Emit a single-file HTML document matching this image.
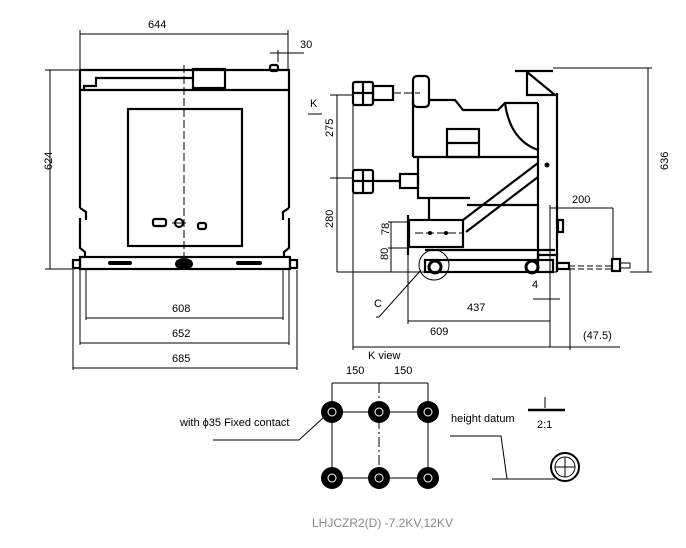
<!DOCTYPE html>
<html><head><meta charset="utf-8"><style>
html,body{margin:0;padding:0;background:#fff}
svg{display:block}
text{font-family:"Liberation Sans Narrow","Liberation Sans",sans-serif;font-size:11px;fill:#000}
</style></head><body>
<svg width="686" height="548" viewBox="0 0 686 548" xmlns="http://www.w3.org/2000/svg">
<g fill="none" stroke="#000" stroke-width="1">
<!-- LEFT VIEW dimensions -->
<line x1="80" y1="34" x2="288" y2="34"/>
<line x1="80" y1="30" x2="80" y2="70"/>
<line x1="288" y1="30" x2="288" y2="70"/>
<line x1="270" y1="53" x2="304" y2="53"/>
<line x1="278" y1="50" x2="278" y2="62"/>
<line x1="50" y1="70" x2="50" y2="269"/>
<line x1="45" y1="70" x2="80" y2="70"/>
<line x1="45" y1="269" x2="75" y2="269"/>
<line x1="86" y1="270" x2="86" y2="320"/>
<line x1="283" y1="270" x2="283" y2="320"/>
<line x1="80" y1="270" x2="80" y2="345"/>
<line x1="289" y1="270" x2="289" y2="345"/>
<line x1="73" y1="270" x2="73" y2="370"/>
<line x1="297" y1="270" x2="297" y2="370"/>
<line x1="86" y1="318" x2="283" y2="318"/>
<line x1="80" y1="343" x2="289" y2="343"/>
<line x1="73" y1="368" x2="297" y2="368"/>
<!-- LEFT body -->
<g stroke-width="2.2">
<path d="M80,70 H289 V208 M80,70 V208"/>
<line x1="80" y1="90" x2="289" y2="90"/>
<path d="M84,90 V86 H96 V78 H193"/>
<rect x="193" y="69" width="32" height="19"/>
<rect x="270" y="65" width="8" height="6" rx="2"/>
<rect x="128" y="109" width="114" height="137"/>
<path d="M80,208 L86,212 V220 M80,218 V248 L85,252 V257"/>
<path d="M289,208 L283,212 V220 M289,218 V248 L284,252 V257"/>
<rect x="80" y="257" width="210" height="12"/>
<rect x="73" y="260" width="7" height="8"/>
<rect x="290" y="260" width="7" height="8"/>
<rect x="153" y="219" width="13" height="7" rx="2"/>
<rect x="198" y="223" width="8" height="6" rx="2"/>
</g>
<line x1="184" y1="65" x2="184" y2="260" stroke-dasharray="8,3"/>
<line x1="86" y1="269" x2="86" y2="273"/><line x1="283" y1="269" x2="283" y2="273"/>
<circle cx="179" cy="223" r="4" stroke-width="2"/>
<line x1="172" y1="223" x2="186" y2="223"/>
<!-- RIGHT VIEW -->
<g stroke-width="2.2">
<rect x="353" y="82" width="20" height="23" rx="2"/>
<line x1="353" y1="93" x2="373" y2="93"/><line x1="363" y1="82" x2="363" y2="105"/>
<rect x="373" y="86" width="20" height="14"/>
<rect x="413" y="76" width="16" height="31" rx="4"/>
<path d="M413,100 V157 M429,100 H455 L463,110 H498 L505,103 H538"/>
<path d="M505,103 Q510,140 538,150"/>
<rect x="447" y="129" width="32" height="28"/>
<line x1="447" y1="143" x2="479" y2="143"/>
<line x1="413" y1="157" x2="538" y2="157"/>
<path d="M418,157 V198 H470"/>
<rect x="353" y="170" width="20" height="23" rx="2"/>
<line x1="353" y1="181" x2="373" y2="181"/><line x1="363" y1="170" x2="363" y2="193"/>
<rect x="400" y="174" width="18" height="14"/>
<line x1="373" y1="181" x2="400" y2="181"/>
<path d="M538,103 V272 M557,93 V272"/>
<path d="M515,71 H553 M527,72 V95 H555 L527,72"/>
<line x1="538" y1="163" x2="463" y2="220"/>
<line x1="538" y1="177" x2="466" y2="232"/>
<line x1="429" y1="198" x2="429" y2="220"/>
<line x1="467" y1="205" x2="538" y2="205"/>
<rect x="409" y="220" width="54" height="27"/>
<line x1="408" y1="215" x2="408" y2="255"/>
<line x1="425" y1="250" x2="555" y2="250"/>
<rect x="425" y="260" width="128" height="12"/>
<line x1="538" y1="250" x2="538" y2="260"/>
<line x1="538" y1="255" x2="557" y2="255"/>
<rect x="558" y="220" width="5" height="12"/>
<rect x="557" y="263" width="12" height="6"/>
<rect x="612" y="259" width="8" height="12"/>
</g>
<circle cx="435" cy="267" r="6" stroke-width="3"/>
<circle cx="532" cy="267" r="6" stroke-width="3"/>
<circle cx="434" cy="265" r="15"/>
<line x1="569" y1="266" x2="612" y2="266" stroke-dasharray="6,3"/>
<line x1="569" y1="269" x2="612" y2="269" stroke-dasharray="6,3"/>
<rect x="620" y="263" width="10" height="5"/>
<line x1="415" y1="233" x2="463" y2="233" stroke-dasharray="8,3"/>
<line x1="393" y1="93" x2="420" y2="93" stroke-dasharray="8,3"/>
<!-- right dims -->
<line x1="337" y1="95" x2="337" y2="272"/>
<line x1="330" y1="95" x2="353" y2="95"/>
<line x1="330" y1="178" x2="353" y2="178"/>
<line x1="337" y1="272" x2="557" y2="272"/>
<line x1="391" y1="222" x2="391" y2="272"/>
<line x1="388" y1="222" x2="409" y2="222"/>
<line x1="388" y1="248" x2="409" y2="248"/>
<line x1="553" y1="68" x2="652" y2="68"/>
<line x1="648" y1="68" x2="648" y2="272"/>
<line x1="630" y1="272" x2="652" y2="272"/>
<line x1="550" y1="208" x2="613" y2="208"/>
<line x1="613" y1="208" x2="613" y2="260"/>
<line x1="550" y1="205" x2="550" y2="347"/>
<line x1="570" y1="268" x2="570" y2="350"/>
<line x1="533" y1="299" x2="560" y2="299"/>
<line x1="408" y1="255" x2="408" y2="324"/>
<line x1="353" y1="105" x2="353" y2="350"/>
<line x1="408" y1="321" x2="550" y2="321"/>
<line x1="353" y1="347" x2="620" y2="347"/>
<path d="M376,317 H379 L421,270"/>
<line x1="308" y1="114" x2="322" y2="114"/>
<!-- K VIEW -->
<line x1="332" y1="383" x2="428" y2="383"/>
<line x1="332" y1="383" x2="332" y2="478"/>
<line x1="379" y1="383" x2="379" y2="478" stroke-dasharray="10,3,2,3"/>
<line x1="428" y1="383" x2="428" y2="478"/>
<line x1="332" y1="412" x2="428" y2="412"/>
<line x1="332" y1="478" x2="428" y2="478"/>
<path d="M213,440 H299 L323,418"/>
<path d="M450,436 H501 L507,479 M492,479 H555"/>
<line x1="528" y1="410" x2="565" y2="410" stroke-width="2.5"/>
<line x1="545" y1="397" x2="545" y2="408"/>
<circle cx="565" cy="467" r="14" stroke-width="2"/>
<circle cx="565" cy="467" r="10"/>
<line x1="555" y1="467" x2="575" y2="467"/><line x1="565" y1="457" x2="565" y2="477"/>
</g>
<g fill="#000">
<circle cx="332" cy="412" r="11"/><circle cx="379" cy="412" r="11"/><circle cx="428" cy="412" r="11"/>
<circle cx="332" cy="478" r="11"/><circle cx="379" cy="478" r="11"/><circle cx="428" cy="478" r="11"/>
<rect x="108" y="261" width="24" height="4" rx="2"/>
<rect x="236" y="261" width="26" height="4" rx="2"/>
<ellipse cx="184" cy="264" rx="9" ry="6"/>
<circle cx="430" cy="233" r="2"/><circle cx="446" cy="233" r="2"/>
<circle cx="547" cy="165" r="2.5"/>
</g>
<g stroke="#fff" stroke-width="1" fill="none">
<circle cx="332" cy="412" r="4"/><circle cx="379" cy="412" r="4"/><circle cx="428" cy="412" r="4"/>
<circle cx="332" cy="478" r="4"/><circle cx="379" cy="478" r="4"/><circle cx="428" cy="478" r="4"/>
</g>
<text x="148" y="28">644</text>
<text x="300" y="48">30</text>
<text x="42" y="180" transform="rotate(-90 42 170)">624</text>
<text x="172" y="312">608</text>
<text x="172" y="337">652</text>
<text x="172" y="362">685</text>
<text x="310" y="107">K</text>
<text x="325" y="145" transform="rotate(-90 325 137)">275</text>
<text x="325" y="236" transform="rotate(-90 325 228)">280</text>
<text x="382" y="242" transform="rotate(-90 382 235)">78</text>
<text x="382" y="266" transform="rotate(-90 382 260)">80</text>
<text x="660" y="178" transform="rotate(-90 660 170)">636</text>
<text x="572" y="203">200</text>
<text x="532" y="288">4</text>
<text x="467" y="311">437</text>
<text x="430" y="335">609</text>
<text x="583" y="339">(47.5)</text>
<text x="374" y="307">C</text>
<text x="368" y="359">K view</text>
<text x="346" y="374">150</text>
<text x="394" y="374">150</text>
<text x="180" y="426">with ϕ35 Fixed contact</text>
<text x="451" y="422">height datum</text>
<text x="537" y="428">2:1</text>
<text x="312" y="527" style="fill:#888;font-size:12px">LHJCZR2(D) -7.2KV,12KV</text>
</svg>
</body></html>
